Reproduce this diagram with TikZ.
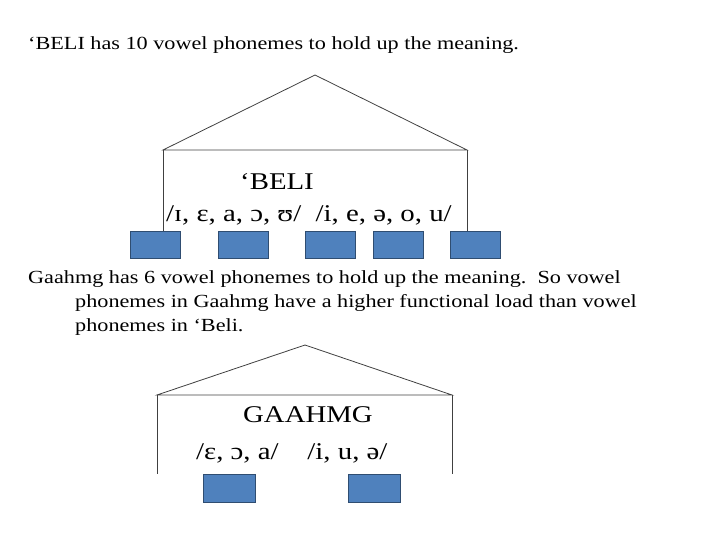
\documentclass[tikz,border=0pt]{standalone}
\usepackage{fontspec}
\setmainfont{Liberation Serif}[FakeStretch=1.2]
\begin{document}
\begin{tikzpicture}[x=1pt,y=-1pt,
  ln/.style={draw=black!75,line width=0.8pt},
  txt/.style={inner sep=0pt,anchor=base west,font=\fontsize{18.5}{22}\selectfont},
  big/.style={inner sep=0pt,anchor=base west,font=\fontsize{24}{28}\selectfont}]
\definecolor{bq}{RGB}{79,129,189}
\tikzset{sq/.style={fill=bq,draw=bq!60!black,line width=0.6pt}}
\useasboundingbox (0,0) rectangle (720,540);
% top
\node[txt] (t1) at (28,50) {‘BELI has 10 vowel phonemes to hold up the meaning.};
\coordinate (a1) at (315,75);
\coordinate (b1) at (163,150);
\coordinate (c1) at (467,150);
\draw[ln] (b1) -- (a1) -- (c1) -- cycle;
\draw[ln] (b1) -- (163,231) (c1) -- (467,231);
\node[big] (n1) at (240,190) {‘BELI};
\node[big] (n2) at (166,222) {/ɪ, ɛ, a, ɔ, ʊ/ \ /i, e, ə, o, u/};
\foreach \x [count=\i] in {130,218,305,373,450}
  \draw[sq] (\x,231) rectangle ++(50,27) node[coordinate] (s\i) {};
% middle
\node[txt] (m1) at (28,283) {Gaahmg has 6 vowel phonemes to hold up the meaning.\ \ So vowel};
\node[txt] (m2) at (75,307) {phonemes in Gaahmg have a higher functional load than vowel};
\node[txt] (m3) at (75,331) {phonemes in ‘Beli.};
% bottom
\coordinate (a2) at (305,345);
\coordinate (b2) at (157,395);
\coordinate (c2) at (452,395);
\draw[ln] (b2) -- (a2) -- (c2) -- cycle;
\draw[ln] (b2) -- (157,474) (c2) -- (452,474);
\node[big] (g1) at (243,422) {GAAHMG};
\node[big] (g2) at (196,459) {/ɛ, ɔ, a/ \ \ \ /i, u, ə/};
\draw[sq] (203,474) rectangle (255,502);
\draw[sq] (348,474) rectangle (400,502);
\end{tikzpicture}
\end{document}
